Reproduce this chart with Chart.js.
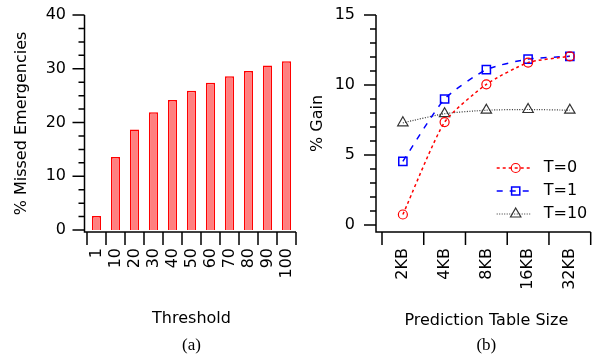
<!DOCTYPE html>
<html>
<head>
<meta charset="utf-8">
<script src="https://cdn.jsdelivr.net/npm/chart.js@4"></script>
<style>
  html, body { margin: 0; padding: 0; background: #fff; }
  #wrap { position: relative; width: 598px; height: 360px; }
  .panel { position: absolute; top: 0; }
</style>
</head>
<body>
<div id="wrap">
  <div class="panel" style="left:0"><canvas id="chartA" width="300" height="360"></canvas></div>
  <div class="panel" style="left:300px"><canvas id="chartB" width="298" height="360"></canvas></div>
</div>
<script>
// (a) missed emergencies per threshold
const thresholds = ['1', '10', '20', '30', '40', '50', '60', '70', '80', '90', '100'];
const missed = [2.6, 13.6, 18.7, 21.9, 24.2, 25.9, 27.4, 28.6, 29.6, 30.6, 31.4];
const missedTicks = [0, 10, 20, 30, 40];

// (b) gain per prediction table size
const tableSizes = ['2KB', '4KB', '8KB', '16KB', '32KB'];
const gainT0 = [0.75, 7.35, 10.05, 11.6, 12.05];
const gainT1 = [4.55, 9.0, 11.1, 11.85, 12.05];
const gainT10 = [7.3, 7.95, 8.2, 8.25, 8.2];
const gainTicks = [0, 5, 10, 15];

Chart.defaults.color = '#000';
Chart.defaults.font.family = '"DejaVu Sans", sans-serif';

// axis lines + major/minor tick marks, drawn off the scales
const axesPlugin = {
    id: 'axes',
    afterDraw(chart, args, opts) {
        const { ctx, chartArea: area, scales: { x, y } } = chart;
        const ax = area.left - opts.shift;
        ctx.save();
        ctx.strokeStyle = '#000';
        ctx.lineWidth = 1.5;
        ctx.beginPath();
        ctx.moveTo(ax, y.getPixelForValue(opts.top));
        ctx.lineTo(ax, area.bottom);
        ctx.lineTo(area.right, area.bottom);
        for (let v = 0; v <= opts.top + 1e-9; v += opts.minorStep) {
            const py = y.getPixelForValue(v);
            const r = v / opts.majorStep;
            const len = Math.abs(r - Math.round(r)) < 1e-6 ? 12 : 6;
            ctx.moveTo(ax - len, py);
            ctx.lineTo(ax, py);
        }
        const n = chart.data.labels.length;
        const half = (x.getPixelForValue(1) - x.getPixelForValue(0)) / 2;
        for (let i = 0; i <= n; i++) {
            const px = x.getPixelForValue(i) - half;
            ctx.moveTo(px, area.bottom);
            ctx.lineTo(px, area.bottom + 13);
        }
        ctx.stroke();
        ctx.restore();
    }
};

// legend in the lower right corner of the plot area
const cornerLegend = {
    id: 'cornerLegend',
    afterDraw(chart, args, opts) {
        const { ctx, chartArea: area } = chart;
        chart.data.datasets.forEach((ds, i) => {
            const yy = area.bottom - opts.bottom + i * opts.rowHeight;
            const x0 = area.right - opts.right;
            ctx.save();
            ctx.strokeStyle = ds.borderColor;
            ctx.lineWidth = ds.borderWidth;
            ctx.setLineDash(ds.borderDash);
            ctx.beginPath();
            ctx.moveTo(x0, yy);
            ctx.lineTo(x0 + 34, yy);
            ctx.stroke();
            ctx.setLineDash([]);
            ctx.fillStyle = 'rgba(0,0,0,0)';
            ctx.lineWidth = ds.pointBorderWidth;
            Chart.helpers.drawPoint(ctx, { pointStyle: ds.pointStyle, radius: ds.pointRadius, borderWidth: ds.pointBorderWidth, rotation: 0 }, x0 + 19, yy);
            ctx.fillStyle = '#000';
            ctx.font = '16px "DejaVu Sans"';
            ctx.textBaseline = 'middle';
            ctx.fillText(ds.label, x0 + 47, yy);
            ctx.restore();
        });
    }
};

const tickFont = { size: 16 };
const titleFont = { size: 16 };
const capFont = { family: '"Liberation Serif", serif', size: 17, weight: 'normal' };

new Chart(document.getElementById('chartA'), {
    type: 'bar',
    data: {
        labels: thresholds,
        datasets: [{
            data: missed,
            backgroundColor: '#ff8080',
            borderColor: '#ff0000',
            borderWidth: 1.5,
            barPercentage: 0.48,
            categoryPercentage: 1
        }]
    },
    options: {
        responsive: false,
        animation: false,
        layout: { padding: { top: 15, right: 4, left: 0, bottom: 0 } },
        plugins: {
            legend: { display: false },
            tooltip: { enabled: false },
            title: { display: true, position: 'bottom', fullSize: false, text: '(a)', font: capFont, padding: { top: 4, bottom: 4 } },
            axes: { shift: 2.5, top: 40, majorStep: 10, minorStep: 2.5 }
        },
        scales: {
            x: {
                grid: { display: false, drawTicks: false },
                border: { display: false },
                ticks: { minRotation: 90, maxRotation: 90, autoSkip: false, padding: 16, font: tickFont },
                title: { display: true, text: 'Threshold', font: titleFont, padding: { top: 0, bottom: 3 } },
                afterFit: (s) => { s.height = 360 - 232 - 28.4; s.paddingLeft = 0; s.paddingRight = 0; }
            },
            y: {
                min: -0.37,
                max: 40,
                ticks: { padding: 21, font: tickFont },
                afterBuildTicks: (s) => { s.ticks = missedTicks.map(v => ({ value: v })); },
                grid: { display: false, drawTicks: false },
                border: { display: false },
                title: { display: true, text: '% Missed Emergencies', font: titleFont, padding: { top: 12, bottom: 0 } },
                afterFit: (s) => { s.width = 87; s.paddingTop = 0; s.paddingBottom = 0; }
            }
        }
    },
    plugins: [axesPlugin]
});

const pointFill = 'rgba(0,0,0,0)';

new Chart(document.getElementById('chartB'), {
    type: 'line',
    data: {
        labels: tableSizes,
        datasets: [{
            label: 'T=0',
            data: gainT0,
            borderColor: '#ff0000',
            borderWidth: 1.5,
            borderDash: [3, 3],
            pointStyle: 'circle',
            pointRadius: 4.5,
            pointBorderWidth: 1.2,
            pointBorderColor: '#ff0000',
            pointBackgroundColor: pointFill,
            tension: 0.2
        }, {
            label: 'T=1',
            data: gainT1,
            borderColor: '#0000ff',
            borderWidth: 1.5,
            borderDash: [6, 7],
            pointStyle: 'rect',
            pointRadius: 5.8,
            pointBorderWidth: 1.5,
            pointBorderColor: '#0000ff',
            pointBackgroundColor: pointFill,
            tension: 0.2
        }, {
            label: 'T=10',
            data: gainT10,
            borderColor: '#333333',
            borderWidth: 1.2,
            borderDash: [1, 1.5],
            pointStyle: 'triangle',
            pointRadius: 6,
            pointBorderWidth: 1.2,
            pointBorderColor: '#333333',
            pointBackgroundColor: pointFill,
            tension: 0.2
        }]
    },
    options: {
        responsive: false,
        animation: false,
        layout: { padding: { top: 15, right: 6, left: 0, bottom: 0 } },
        plugins: {
            legend: { display: false },
            tooltip: { enabled: false },
            title: { display: true, position: 'bottom', fullSize: false, text: '(b)', font: capFont, padding: { top: 4, bottom: 4 } },
            axes: { shift: 6, top: 15, majorStep: 5, minorStep: 1 },
            cornerLegend: { bottom: 64, rowHeight: 23, right: 94 }
        },
        scales: {
            x: {
                offset: true,
                grid: { display: false, drawTicks: false },
                border: { display: false },
                ticks: { minRotation: 90, maxRotation: 90, autoSkip: false, padding: 16, font: tickFont },
                title: { display: true, text: 'Prediction Table Size', font: titleFont, padding: { top: 0, bottom: 1.5 } },
                afterFit: (s) => { s.height = 360 - 232 - 28.4; s.paddingLeft = 0; s.paddingRight = 0; }
            },
            y: {
                min: -0.5,
                max: 15,
                ticks: { padding: 27, font: tickFont },
                afterBuildTicks: (s) => { s.ticks = gainTicks.map(v => ({ value: v })); },
                grid: { display: false, drawTicks: false },
                border: { display: false },
                title: { display: true, text: '% Gain', font: titleFont, padding: { top: 8, bottom: 0 } },
                afterFit: (s) => { s.width = 82; s.paddingTop = 0; s.paddingBottom = 0; }
            }
        }
    },
    plugins: [axesPlugin, cornerLegend]
});
</script>
</body>
</html>
